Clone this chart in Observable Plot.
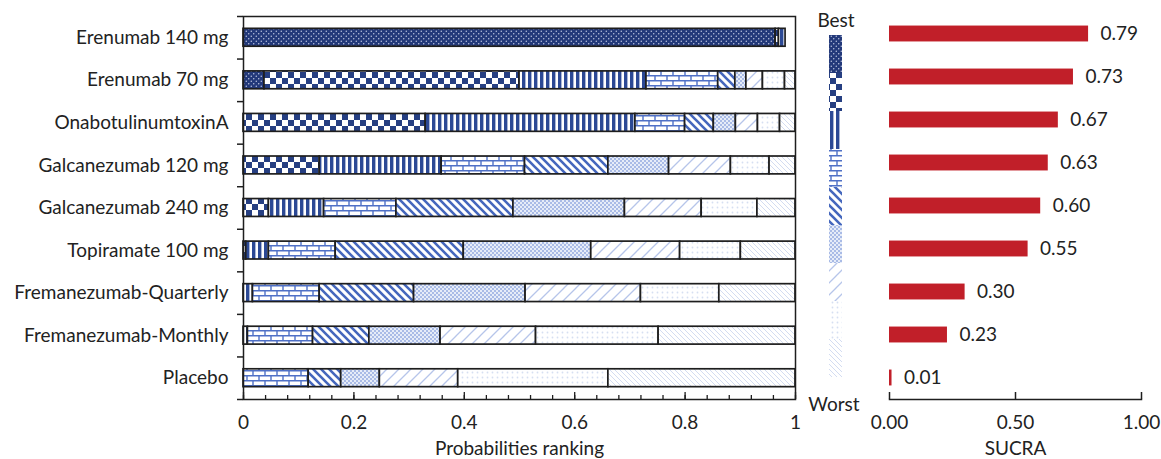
<!DOCTYPE html>
<html>
<head>
<meta charset="utf-8">
<script src="https://cdn.jsdelivr.net/npm/d3@7"></script>
<script src="https://cdn.jsdelivr.net/npm/@observablehq/plot@0.6"></script>
<style>
  html, body { margin: 0; padding: 0; background: #fff; }
  #chart { position: relative; width: 1161px; height: 459px; font-family: Lato, sans-serif; }
  #chart > div { position: absolute; top: 0; }
  #rank { left: 0; }
  #key { left: 800px; }
  #sucra { left: 860px; }
</style>
</head>
<body>
<svg width="0" height="0" style="position:absolute"><defs id="patterns"></defs></svg>
<div id="chart"><div id="rank"></div><div id="key"></div><div id="sucra"></div></div>
<script>
// Treatments, top to bottom
const drugs = [
  "Erenumab 140 mg",
  "Erenumab 70 mg",
  "OnabotulinumtoxinA",
  "Galcanezumab 120 mg",
  "Galcanezumab 240 mg",
  "Topiramate 100 mg",
  "Fremanezumab-Quarterly",
  "Fremanezumab-Monthly",
  "Placebo"
];

// Rank positions, 1 = best, 9 = worst
const ranks = [1, 2, 3, 4, 5, 6, 7, 8, 9];

// Probability of each rank (1..9) for every treatment
const erenumab140  = [0.964, 0.006, 0.012, 0, 0, 0, 0, 0, 0];
const erenumab70   = [0.038, 0.462, 0.230, 0.130, 0.031, 0.020, 0.030, 0.040, 0.019];
const onabotulinum = [0, 0.330, 0.380, 0.090, 0.052, 0.040, 0.040, 0.040, 0.028];
const galcan120    = [0, 0.138, 0.221, 0.151, 0.151, 0.110, 0.112, 0.070, 0.047];
const galcan240    = [0, 0.046, 0.100, 0.131, 0.212, 0.202, 0.139, 0.101, 0.069];
const topiramate   = [0, 0.005, 0.041, 0.121, 0.232, 0.231, 0.161, 0.110, 0.099];
const fremaQuart   = [0, 0, 0.017, 0.121, 0.171, 0.202, 0.209, 0.142, 0.138];
const fremaMonth   = [0, 0, 0.008, 0.118, 0.102, 0.129, 0.173, 0.222, 0.248];
const placebo      = [0, 0, 0, 0.118, 0.059, 0.070, 0.142, 0.272, 0.339];
const rankProbs = [erenumab140, erenumab70, onabotulinum, galcan120, galcan240,
                   topiramate, fremaQuart, fremaMonth, placebo];

// Surface under the cumulative ranking curve
const sucra = [0.79, 0.73, 0.67, 0.63, 0.60, 0.55, 0.30, 0.23, 0.01];

// Axis ticks
const probTicks = [0, 0.2, 0.4, 0.6, 0.8, 1];
const probMinorTicks = d3.range(0, 1.0001, 0.04);
const sucraTicks = [0, 0.5, 1];

// Fill patterns, one per rank, from dark (best) to faint (worst)
document.getElementById("patterns").innerHTML = `
<pattern id="rk1" patternUnits="userSpaceOnUse" width="5" height="5">
  <rect width="5" height="5" fill="#23397a"/>
  <circle cx="1.25" cy="1.25" r="0.7" fill="#c9d1ea"/>
  <circle cx="3.75" cy="3.75" r="0.7" fill="#c9d1ea"/>
</pattern>
<pattern id="rk2" patternUnits="userSpaceOnUse" width="12" height="12">
  <rect width="12" height="12" fill="#fff"/>
  <rect width="6" height="6" fill="#263f82"/>
  <rect x="6" y="6" width="6" height="6" fill="#263f82"/>
</pattern>
<pattern id="rk3" patternUnits="userSpaceOnUse" width="6" height="6">
  <rect width="6" height="6" fill="#fff"/>
  <rect width="3.4" height="6" fill="#2c4995"/>
</pattern>
<pattern id="rk4" patternUnits="userSpaceOnUse" width="12" height="10">
  <rect width="12" height="10" fill="#fff"/>
  <path d="M0,0.7H12M0,5.7H12M1,0.7V5.7M7,5.7V10.7" stroke="#4f70c6" stroke-width="1.4" fill="none"/>
</pattern>
<pattern id="rk5" patternUnits="userSpaceOnUse" width="8" height="8">
  <rect width="8" height="8" fill="#fff"/>
  <path d="M-1,-1L9,9M-1,7L1,9M7,-1L9,1" stroke="#4567bd" stroke-width="2.6"/>
</pattern>
<pattern id="rk6" patternUnits="userSpaceOnUse" width="4" height="4">
  <rect width="4" height="4" fill="#e6ecf8"/>
  <rect width="2" height="2" fill="#a9bbe6"/>
  <rect x="2" y="2" width="2" height="2" fill="#a9bbe6"/>
</pattern>
<pattern id="rk7" patternUnits="userSpaceOnUse" width="12" height="12">
  <rect width="12" height="12" fill="#fff"/>
  <path d="M-1,13L13,-1M-1,1L1,-1M11,13L13,11" stroke="#b6c5ea" stroke-width="1.3"/>
</pattern>
<pattern id="rk8" patternUnits="userSpaceOnUse" width="5" height="5">
  <rect width="5" height="5" fill="#fff"/>
  <circle cx="2.5" cy="2.5" r="0.9" fill="#d6dff2"/>
</pattern>
<pattern id="rk9" patternUnits="userSpaceOnUse" width="5" height="5">
  <rect width="5" height="5" fill="#fff"/>
  <path d="M-1,-1L6,6M-1,4L1,6M4,-1L6,1" stroke="#d3dcf1" stroke-width="1"/>
</pattern>`;
const patternUrls = ranks.map(r => `url(#rk${r})`);

const H = 459;
const ink = "#1e1e1e";
const fs = 19;
const font = {fontFamily: "Lato, sans-serif", fontSize: fs + "px", color: "#222", background: "transparent", overflow: "visible"};

// Rank probability table (one row per treatment × rank)
const rankRows = drugs.flatMap((drug, i) =>
  rankProbs[i].map((p, j) => ({drug, rank: ranks[j], p}))
).filter(d => d.p > 0);

// Left panel: stacked rank probabilities
{
  const mt = 16, mb = 60;
  const innerH = H - mt - mb;
  const step = innerH / drugs.length;
  const chart = Plot.plot({
    width: 805, height: H,
    marginTop: mt, marginBottom: mb, marginLeft: 243, marginRight: 10,
    style: font,
    x: {domain: [0, 1]},
    y: {domain: drugs, paddingInner: 0.58, paddingOuter: 0.29, align: 0.5, round: false},
    color: {domain: ranks, range: patternUrls},
    marks: [
      Plot.barX(rankRows, {x: "p", y: "drug", fill: "rank", stroke: ink, strokeWidth: 1.7}),
      Plot.frame({stroke: ink, strokeWidth: 1.5}),
      Plot.axisY({label: null, tickSize: 0, tickPadding: 15, fontSize: fs}),
      Plot.axisY({label: null, tickSize: 6, tickFormat: () => "", dy: -step / 2, stroke: ink, strokeWidth: 1.5}),
      Plot.axisY({label: null, ticks: [drugs[drugs.length - 1]], tickSize: 6, tickFormat: () => "", dy: step / 2, stroke: ink, strokeWidth: 1.5}),
      Plot.ruleX(probMinorTicks, {insetTop: innerH - 4, stroke: ink, strokeWidth: 1.3}),
      Plot.ruleX(probTicks, {insetTop: innerH - 7, stroke: ink, strokeWidth: 1.3}),
      Plot.axisX({label: null, ticks: probTicks, tickSize: 0, tickPadding: 16, fontSize: fs, tickFormat: d => String(d)}),
      Plot.text(["Probabilities ranking"], {text: d => d, frameAnchor: "bottom", dy: 55, fontSize: fs, fill: "#222"})
    ]
  });
  document.getElementById("rank").append(chart);
}

// Middle: best-to-worst pattern key
{
  const chart = Plot.plot({
    width: 70, height: H,
    marginTop: 35, marginBottom: 82, marginLeft: 29, marginRight: 28,
    style: font,
    x: {domain: ["key"], padding: 0, axis: null},
    y: {domain: ranks, padding: 0, axis: null, round: false},
    color: {domain: ranks, range: patternUrls},
    marks: [
      Plot.cell(ranks, {x: () => "key", y: d => d, fill: d => d, inset: 0}),
      Plot.text(["Best"], {text: d => d, frameAnchor: "top", dy: -22, fontSize: fs, fill: "#222"}),
      Plot.text(["Worst"], {text: d => d, frameAnchor: "bottom", dy: 33, dx: -2, fontSize: fs, fill: "#222"})
    ]
  });
  document.getElementById("key").append(chart);
}

// Right panel: SUCRA values
{
  const mt = 12, mb = 60;
  const innerH = H - mt - mb;
  const sucraRows = drugs.map((drug, i) => ({drug, v: sucra[i]}));
  const chart = Plot.plot({
    width: 301, height: H,
    marginTop: mt, marginBottom: mb, marginLeft: 29, marginRight: 20,
    style: font,
    x: {domain: [0, 1]},
    y: {domain: drugs, paddingInner: 0.63, paddingOuter: 0.315, axis: null, round: false},
    marks: [
      Plot.barX(sucraRows, {x: "v", y: "drug", fill: "#c11f29"}),
      Plot.text(sucraRows, {x: "v", y: "drug", text: d => d.v.toFixed(2), dx: 12, textAnchor: "start", fontSize: fs, fill: "#222"}),
      Plot.frame({anchor: "bottom", stroke: ink, strokeWidth: 1.5}),
      Plot.ruleX(sucraTicks, {insetTop: innerH - 7, stroke: ink, strokeWidth: 1.5}),
      Plot.axisX({label: null, ticks: sucraTicks, tickSize: 0, tickPadding: 16, fontSize: fs, tickFormat: d3.format(".2f")}),
      Plot.text(["SUCRA"], {text: d => d, frameAnchor: "bottom", dy: 55, fontSize: fs, fill: "#222"})
    ]
  });
  document.getElementById("sucra").append(chart);
}
</script>
</body>
</html>
